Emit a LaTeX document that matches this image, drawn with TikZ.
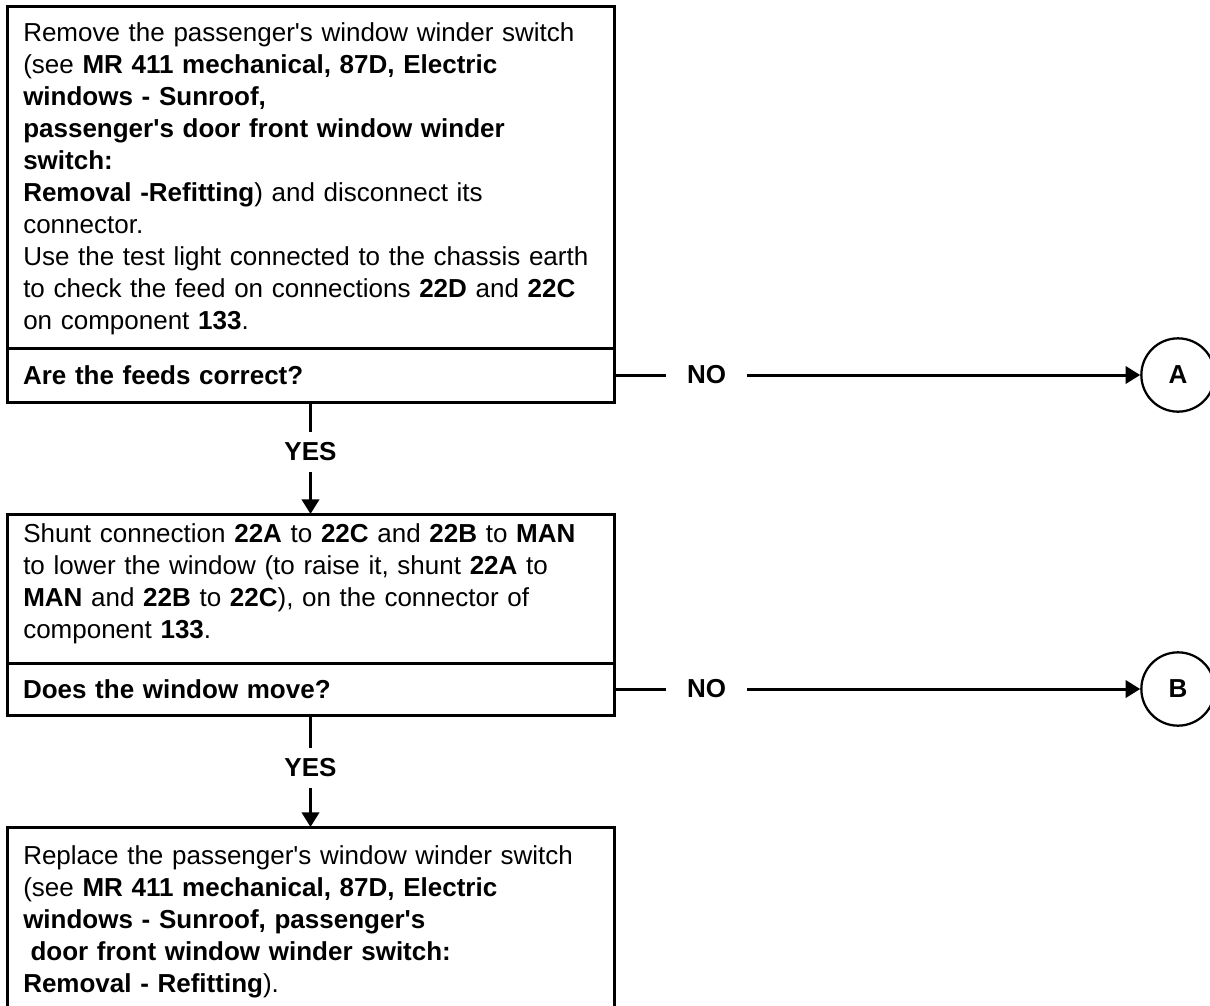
\documentclass[tikz,border=0pt]{standalone}
\usepackage{fontspec}
\setmainfont{Liberation Sans}[Ligatures=TeXOff]
\usetikzlibrary{arrows.meta}
\begin{document}
\begin{tikzpicture}[x=0.75pt,y=-0.75pt,
  txtfont/.style={font=\fontsize{19.5pt}{24pt}\selectfont},
  every node/.style={txtfont},
  box/.style={draw,rectangle,line width=2.25pt,anchor=north west,
    minimum width=455.25pt,inner sep=0pt,outer sep=0pt},
  body/.style={anchor=north west,inner sep=0pt,text width=440pt,align=left},
  ask/.style={box,text width=431.25pt,inner xsep=12pt,align=left,
    font=\fontsize{19.5pt}{24pt}\selectfont\bfseries},
  goal/.style={draw,circle,line width=1.7pt,minimum size=55pt,inner sep=0pt,
    font=\fontsize{19.5pt}{24pt}\selectfont\bfseries},
  conn/.style={line width=2.25pt,-{Triangle[length=11pt,width=13pt]}},
  lbl/.style={fill=white,inner xsep=16pt,inner ysep=8pt,
    font=\fontsize{19.5pt}{24pt}\selectfont\bfseries}
]
\useasboundingbox (0,0) rectangle (1210,1006);
\clip (0,0) rectangle (1210,1006);

% first check
\node[box,minimum height=255.75pt] (b1) at (7,7) {};
\node[ask,minimum height=40.5pt] (q1) at (7,348) {Are the feeds correct?};
\node[body] (t1) at (23,22) {Remove the passenger's window winder switch\\
(see \textbf{MR 411 mechanical, 87D, Electric}\\
\textbf{windows - Sunroof,}\\
\textbf{passenger's door front window winder}\\
\textbf{switch:}\\
\textbf{Removal -Refitting}) and disconnect its\\
connector.\\
Use the test light connected to the chassis earth\\
to check the feed on connections \textbf{22D} and \textbf{22C}\\
on component \textbf{133}.};

% second check
\node[box,minimum height=111.75pt] (b2) at (7,514) {};
\node[ask,minimum height=39pt] (q2) at (7,663) {Does the window move?};
\node[body] (t2) at (23,523) {Shunt connection \textbf{22A} to \textbf{22C} and \textbf{22B} to \textbf{MAN}\\
to lower the window (to raise it, shunt \textbf{22A} to\\
\textbf{MAN} and \textbf{22B} to \textbf{22C}), on the connector of\\
component \textbf{133}.};

% final action
\node[box,minimum height=138pt] (b3) at (7,827) {};
\node[body] (t3) at (23,845) {Replace the passenger's window winder switch\\
(see \textbf{MR 411 mechanical, 87D, Electric}\\
\textbf{windows - Sunroof, passenger's}\\
\hspace*{0.28em}\textbf{door front window winder switch:}\\
\textbf{Removal - Refitting}).};

% exits
\node[goal] (cA) at (1178,375) {A};
\node[goal] (cB) at (1178,689) {B};

% connectors
\draw[conn] (q1.east) -- node[lbl,pos=0.176] (no1) {NO} (cA.west);
\draw[conn] (q2.east) -- node[lbl,pos=0.176] (no2) {NO} (cB.west);
\draw[conn] (q1.south) -- node[lbl,pos=0.446] (yes1) {YES} (b2.north);
\draw[conn] (q2.south) -- node[lbl,pos=0.473] (yes2) {YES} (b3.north);
\end{tikzpicture}
\end{document}
